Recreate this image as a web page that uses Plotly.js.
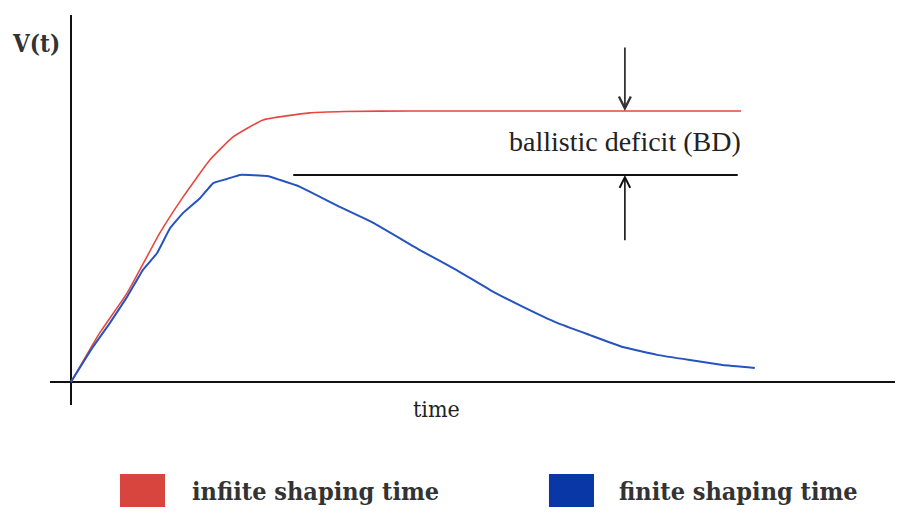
<!DOCTYPE html>
<html>
<head>
<meta charset="utf-8">
<script src="https://cdn.plot.ly/plotly-3.0.1.min.js"></script>
<style>
  html, body { margin: 0; padding: 0; background: #fff; }
  #chart { width: 898px; height: 513px; }
</style>
</head>
<body>
<div id="chart"></div>
<script>
// Pulse amplitude V(t) versus time, arbitrary units (plateau of the ideal pulse = 1)
const timeRed = [0, 0.42, 0.82, 1.30, 1.64, 2.03, 2.37, 2.81, 3.49, 4.0, 5.0, 6.5, 8.0, 9.8];
const voltRed = [0, 0.181, 0.328, 0.550, 0.683, 0.819, 0.904, 0.967, 0.993, 0.998, 1.0, 1.0, 1.0, 1.0];

const timeBlue = [0, 0.32, 0.57, 0.82, 1.05, 1.26, 1.45, 1.64, 1.89, 2.08, 2.28, 2.47, 2.87, 3.06, 3.35,
                  3.93, 4.42, 5.15, 5.64, 6.13, 6.61, 7.11, 7.59, 8.07, 8.57, 9.05, 9.53, 10.0];
const voltBlue = [0, 0.129, 0.218, 0.314, 0.413, 0.476, 0.568, 0.624, 0.679, 0.734, 0.749, 0.764, 0.760, 0.745, 0.720,
                  0.646, 0.587, 0.480, 0.413, 0.339, 0.277, 0.218, 0.173, 0.129, 0.100, 0.081, 0.063, 0.052];

const legendNames = ['infiite shaping time', 'finite shaping time'];
const legendColors = ['#d8443e', '#0a37a6'];

const plateau = Math.max(...voltRed);
const peak = Math.max(...voltBlue);

const serif = 'Liberation Serif, Times New Roman, serif';
const heavy = 'DejaVu Serif Condensed, DejaVu Serif, serif';

const traces = [
  {
    x: timeRed, y: voltRed, type: 'scatter', mode: 'lines',
    line: { color: '#e8473f', width: 1.6, shape: 'spline', smoothing: 0.4 },
    showlegend: false, hoverinfo: 'skip'
  },
  {
    x: timeBlue, y: voltBlue, type: 'scatter', mode: 'lines',
    line: { color: '#2553c0', width: 2, shape: 'spline', smoothing: 0.3 },
    showlegend: false, hoverinfo: 'skip'
  },
  {
    // level of the finite-shaping peak
    x: [3.25, 9.75], y: [peak, peak], type: 'scatter', mode: 'lines',
    line: { color: '#111', width: 2 },
    showlegend: false, hoverinfo: 'skip'
  }
];

const arrowX = 8.1;

const annotations = [
  {
    x: arrowX, y: plateau, xref: 'x', yref: 'y',
    ax: arrowX, ay: 1.24, axref: 'x', ayref: 'y',
    showarrow: true, arrowhead: 5, arrowsize: 1.3, arrowwidth: 1.8, arrowcolor: '#333', text: ''
  },
  {
    x: arrowX, y: peak, xref: 'x', yref: 'y',
    ax: arrowX, ay: 0.517, axref: 'x', ayref: 'y',
    showarrow: true, arrowhead: 5, arrowsize: 1.3, arrowwidth: 1.6, arrowcolor: '#111', text: ''
  },
  {
    x: 9.83, y: (plateau + peak) / 2 + 0.004, xref: 'x', yref: 'y',
    xanchor: 'right', yanchor: 'middle', showarrow: false,
    text: 'ballistic deficit (BD)',
    font: { family: serif, size: 28, color: '#222' }
  },
  {
    x: -0.0166, y: 0.928, xref: 'paper', yref: 'paper',
    xanchor: 'center', yanchor: 'middle', showarrow: false,
    text: '<b>V(t)</b>',
    font: { family: heavy, size: 24, color: '#333' }
  },
  {
    x: 5.35, y: -0.01, xref: 'x', yref: 'paper',
    xanchor: 'center', yanchor: 'middle', showarrow: false,
    text: 'time',
    font: { family: heavy, size: 23, color: '#222' }
  },
  {
    x: 0.1657, y: -0.223, xref: 'paper', yref: 'paper',
    xanchor: 'left', yanchor: 'middle', showarrow: false,
    text: '<b>' + legendNames[0] + '</b>',
    font: { family: heavy, size: 25, color: '#333' }
  },
  {
    x: 0.671, y: -0.223, xref: 'paper', yref: 'paper',
    xanchor: 'left', yanchor: 'middle', showarrow: false,
    text: '<b>' + legendNames[1] + '</b>',
    font: { family: heavy, size: 25, color: '#333' }
  }
];

// legend swatches
const shapes = [
  { type: 'rect', xref: 'paper', yref: 'paper', x0: 0.0828, x1: 0.1361, y0: -0.2615, y1: -0.1769,
    fillcolor: legendColors[0], line: { width: 0 } },
  { type: 'rect', xref: 'paper', yref: 'paper', x0: 0.5905, x1: 0.6438, y0: -0.2615, y1: -0.1769,
    fillcolor: legendColors[1], line: { width: 0 } }
];

const layout = {
  width: 898, height: 513,
  margin: { l: 50, r: 3, t: 15, b: 108 },
  paper_bgcolor: '#fff', plot_bgcolor: '#fff',
  showlegend: false,
  xaxis: {
    range: [-0.307, 12.05], showgrid: false, showticklabels: false, ticks: '',
    zeroline: true, zerolinecolor: '#111', zerolinewidth: 2, showline: false, fixedrange: true
  },
  yaxis: {
    range: [-0.0849, 1.354], showgrid: false, showticklabels: false, ticks: '',
    zeroline: true, zerolinecolor: '#111', zerolinewidth: 2, showline: false, fixedrange: true
  },
  annotations: annotations,
  shapes: shapes
};

Plotly.newPlot('chart', traces, layout, { displayModeBar: false, staticPlot: true });
</script>
</body>
</html>
